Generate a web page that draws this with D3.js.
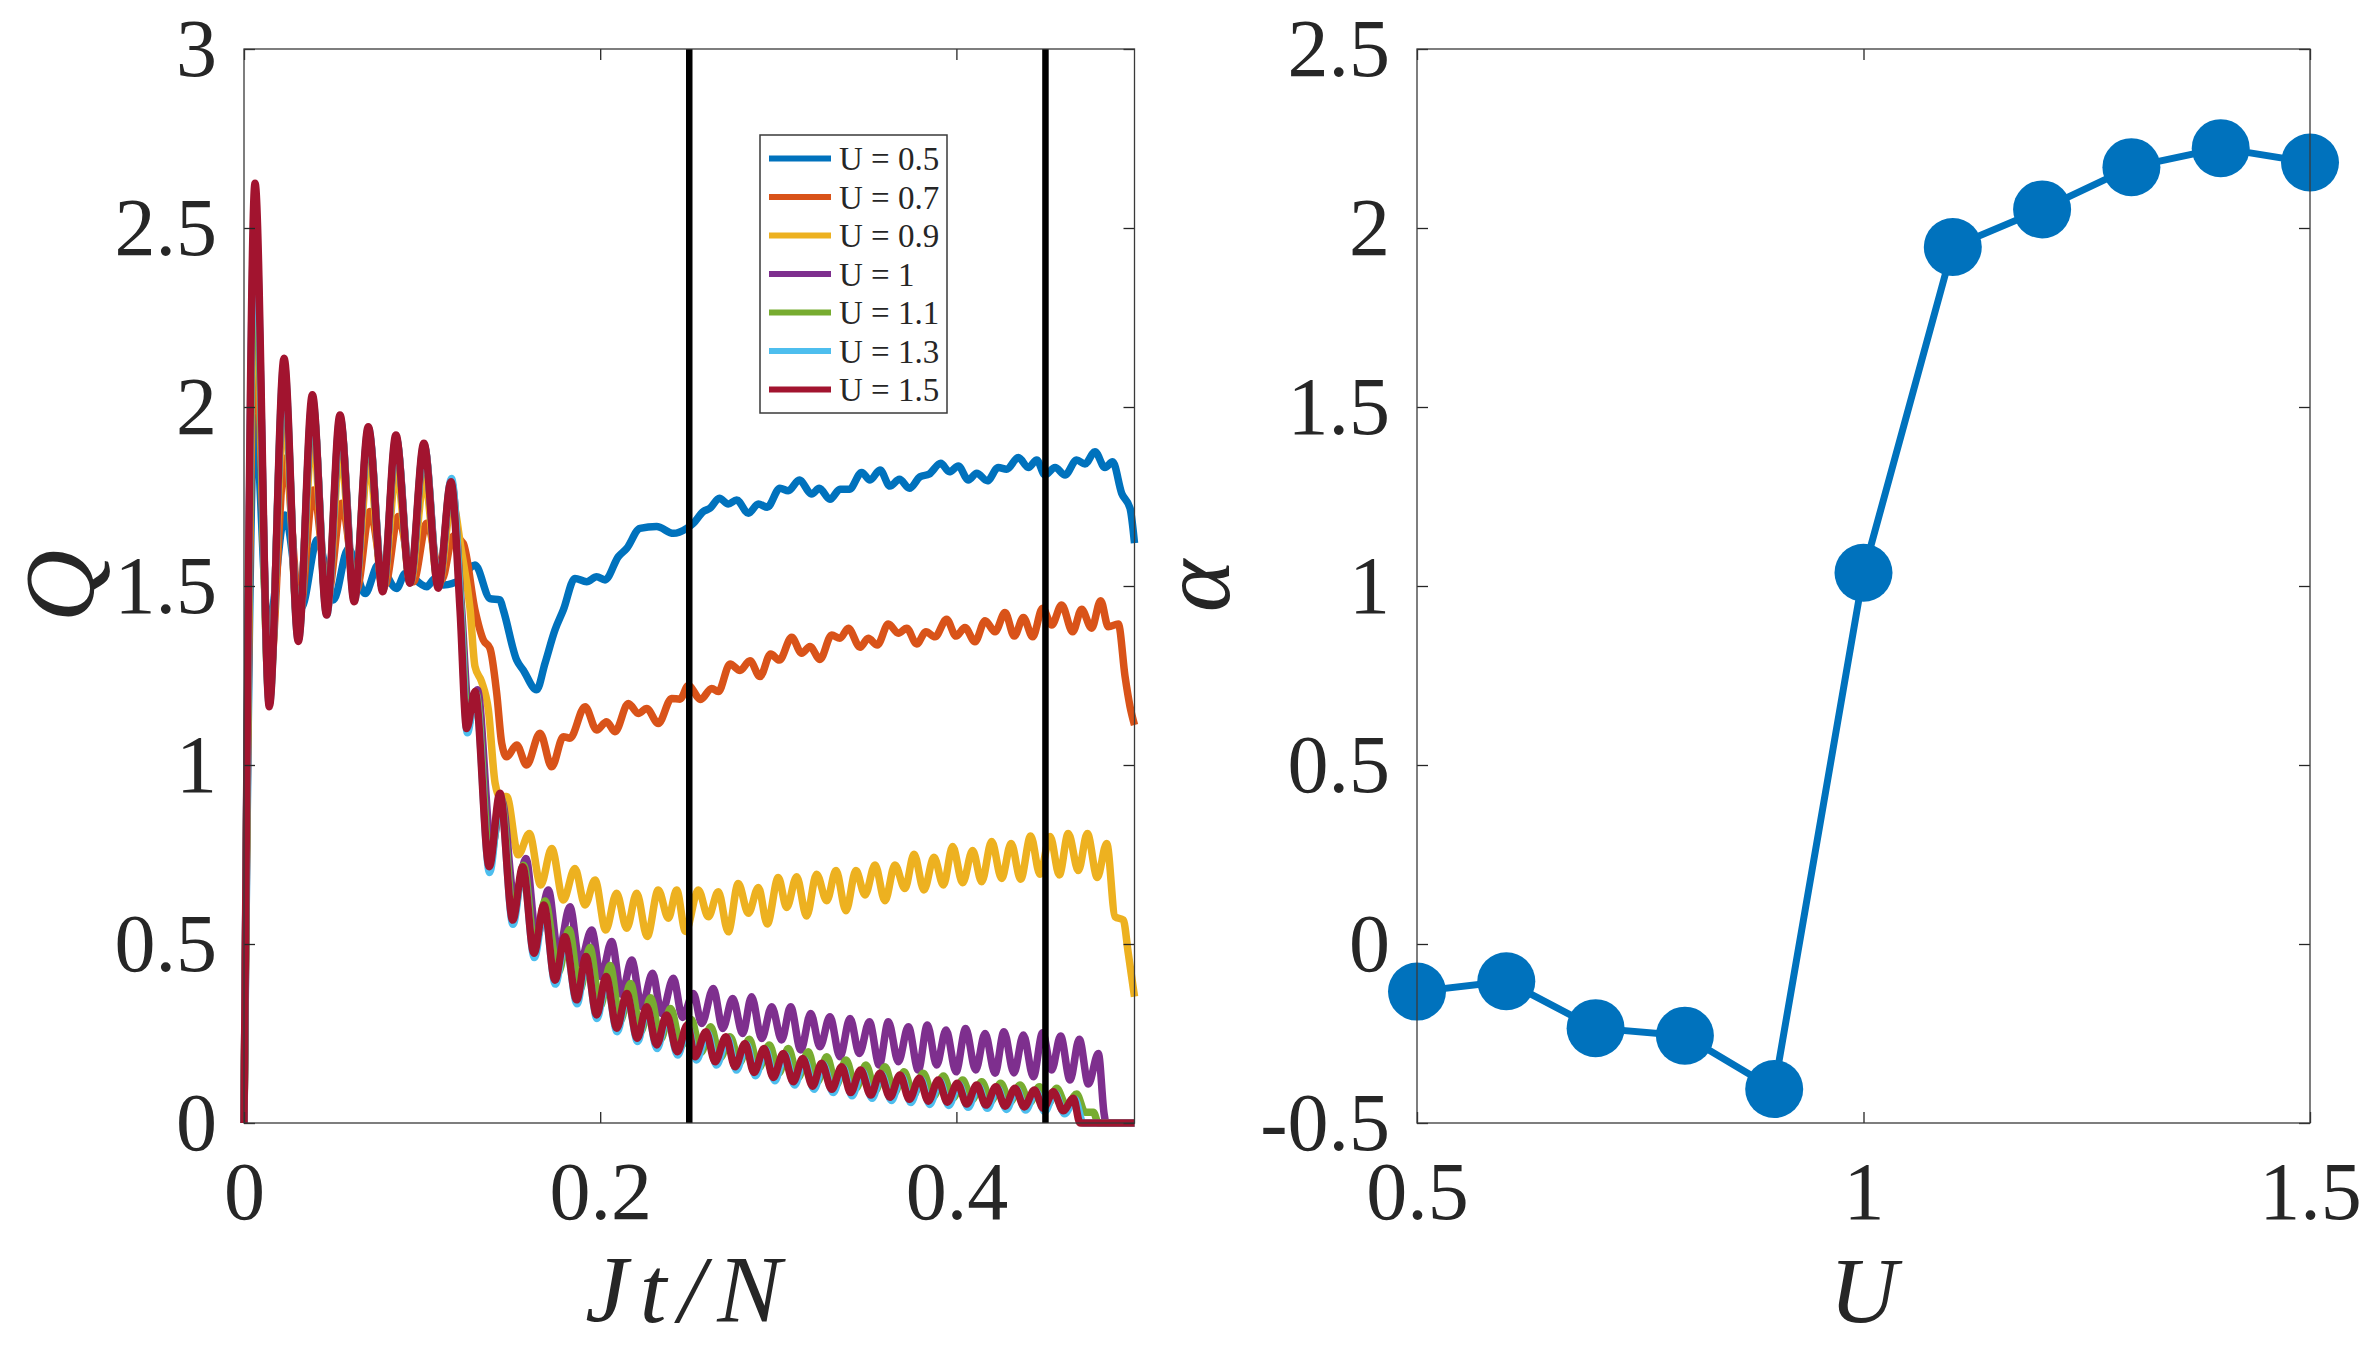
<!DOCTYPE html>
<html>
<head>
<meta charset="utf-8">
<script src="https://cdn.jsdelivr.net/npm/d3@7"></script>
<style>
  html, body { margin: 0; padding: 0; background: #fff; }
  svg { display: block; }
  text { font-family: "Liberation Serif", "Times New Roman", serif; fill: #262626; }
</style>
</head>
<body>
<svg id="chart" width="2364" height="1346"></svg>
<script>
// ---------------- DATA ----------------
const legendLabels = ["U = 0.5", "U = 0.7", "U = 0.9", "U = 1", "U = 1.1", "U = 1.3", "U = 1.5"];

// Q(Jt/N) for each U, pairs [Jt/N, Q]
const qU05 = [[0,0],[0.006,1.97],[0.0138,1.38],[0.023,1.698],[0.0322,1.44],[0.0412,1.629],[0.0502,1.461],[0.0586,1.605],[0.068,1.479],[0.0755,1.56],[0.0857,1.493],[0.0905,1.535],[0.1026,1.498],[0.1072,1.521],[0.112,1.503],[0.1213,1.517],[0.1297,1.559],[0.1381,1.465],[0.1437,1.461],[0.1456,1.433],[0.1531,1.293],[0.1568,1.265],[0.1643,1.21],[0.169,1.284],[0.1746,1.377],[0.1793,1.433],[0.1858,1.521],[0.1924,1.512],[0.198,1.526],[0.2027,1.517],[0.2102,1.582],[0.2149,1.605],[0.2223,1.661],[0.2317,1.666],[0.2411,1.647],[0.2486,1.661],[0.2523,1.675],[0.2579,1.708],[0.2616,1.717],[0.2669,1.745],[0.2719,1.729],[0.2766,1.74],[0.2832,1.703],[0.2888,1.729],[0.2938,1.72],[0.3009,1.773],[0.3056,1.766],[0.3118,1.796],[0.3187,1.757],[0.323,1.773],[0.329,1.742],[0.3346,1.77],[0.3399,1.77],[0.3468,1.817],[0.3515,1.796],[0.3571,1.824],[0.3627,1.779],[0.368,1.798],[0.3736,1.773],[0.3796,1.805],[0.3848,1.813],[0.3912,1.843],[0.396,1.819],[0.4011,1.835],[0.4067,1.796],[0.4114,1.815],[0.4174,1.794],[0.4235,1.831],[0.4282,1.826],[0.4348,1.859],[0.4404,1.831],[0.4451,1.852],[0.4497,1.81],[0.4554,1.831],[0.461,1.81],[0.4675,1.852],[0.4722,1.841],[0.4778,1.875],[0.4834,1.831],[0.4877,1.847],[0.4928,1.759],[0.4975,1.717],[0.5,1.62]];

const qU07 = [[0,0],[0.0062,2.2],[0.0145,1.25],[0.023,1.857],[0.0314,1.43],[0.0389,1.768],[0.0473,1.48],[0.0548,1.731],[0.0632,1.489],[0.0707,1.708],[0.0792,1.503],[0.0866,1.694],[0.0951,1.512],[0.1026,1.675],[0.111,1.517],[0.1175,1.64],[0.1231,1.619],[0.1297,1.433],[0.1344,1.349],[0.1381,1.326],[0.1419,1.2],[0.1447,1.061],[0.1475,1.023],[0.1531,1.056],[0.1587,1.0],[0.1662,1.089],[0.1728,0.995],[0.1793,1.079],[0.183,1.075],[0.1915,1.163],[0.198,1.098],[0.2036,1.121],[0.2083,1.093],[0.2158,1.172],[0.2214,1.144],[0.2261,1.158],[0.2326,1.116],[0.2401,1.186],[0.2448,1.184],[0.2495,1.222],[0.2564,1.183],[0.2626,1.214],[0.2663,1.205],[0.2729,1.282],[0.2785,1.264],[0.2841,1.291],[0.2897,1.247],[0.2957,1.31],[0.3006,1.293],[0.3075,1.357],[0.3131,1.312],[0.3178,1.331],[0.3234,1.295],[0.33,1.363],[0.3346,1.354],[0.3393,1.382],[0.3459,1.329],[0.3505,1.354],[0.3556,1.335],[0.3618,1.394],[0.3674,1.368],[0.3721,1.382],[0.3777,1.338],[0.3829,1.372],[0.388,1.358],[0.3945,1.407],[0.3998,1.36],[0.4048,1.384],[0.4104,1.344],[0.4161,1.403],[0.4217,1.372],[0.4273,1.426],[0.4325,1.36],[0.4376,1.412],[0.4428,1.358],[0.4484,1.438],[0.4535,1.391],[0.4591,1.447],[0.4653,1.372],[0.4703,1.435],[0.4759,1.382],[0.481,1.459],[0.4853,1.386],[0.4909,1.394],[0.4947,1.247],[0.4975,1.163],[0.5,1.112]];

const qU09 = [[0,0],[0.0062,2.35],[0.0142,1.2],[0.0225,2.0],[0.0305,1.38],[0.0386,1.92],[0.0466,1.44],[0.0541,1.88],[0.0621,1.47],[0.07,1.85],[0.078,1.49],[0.0856,1.82],[0.0935,1.51],[0.1013,1.8],[0.1093,1.5],[0.1168,1.74],[0.122,1.6],[0.127,1.433],[0.1297,1.275],[0.1334,1.233],[0.1372,1.154],[0.141,0.949],[0.1437,0.912],[0.1475,0.912],[0.154,0.749],[0.1602,0.809],[0.1666,0.665],[0.1728,0.767],[0.1793,0.623],[0.1858,0.711],[0.1915,0.609],[0.1971,0.679],[0.2031,0.539],[0.2092,0.642],[0.2149,0.544],[0.2205,0.642],[0.2264,0.521],[0.2326,0.651],[0.2383,0.572],[0.2429,0.651],[0.2479,0.535],[0.2551,0.651],[0.2607,0.576],[0.2663,0.646],[0.2719,0.534],[0.2775,0.669],[0.2832,0.586],[0.2888,0.658],[0.2938,0.556],[0.3,0.686],[0.3047,0.602],[0.3103,0.688],[0.3159,0.578],[0.3215,0.695],[0.3272,0.621],[0.3324,0.705],[0.338,0.593],[0.3436,0.705],[0.3487,0.637],[0.3543,0.721],[0.3599,0.621],[0.3655,0.721],[0.3711,0.655],[0.3762,0.751],[0.3818,0.651],[0.3874,0.742],[0.3927,0.665],[0.3979,0.772],[0.4035,0.671],[0.4091,0.761],[0.4142,0.674],[0.4198,0.786],[0.4254,0.683],[0.4307,0.781],[0.4361,0.681],[0.4417,0.802],[0.4469,0.695],[0.4526,0.8],[0.4578,0.693],[0.4628,0.809],[0.4685,0.705],[0.4735,0.809],[0.4791,0.686],[0.4844,0.781],[0.4891,0.576],[0.4937,0.567],[0.4965,0.474],[0.5,0.353]];

const qU10 = [[0,0],[0.0062,2.5],[0.0142,1.2],[0.0225,2.08],[0.0305,1.37],[0.0386,2.0],[0.0466,1.43],[0.0541,1.96],[0.0621,1.47],[0.07,1.93],[0.078,1.49],[0.0855,1.91],[0.0934,1.51],[0.1012,1.89],[0.1093,1.5],[0.1165,1.79],[0.122,1.45],[0.1265,1.14],[0.131,1.21],[0.139,0.77],[0.1448,0.9],[0.152,0.62],[0.1583,0.739],[0.1643,0.516],[0.1709,0.651],[0.1765,0.474],[0.183,0.604],[0.1886,0.446],[0.1952,0.539],[0.2005,0.409],[0.2064,0.507],[0.212,0.36],[0.2177,0.455],[0.2233,0.325],[0.2294,0.418],[0.2345,0.306],[0.2411,0.404],[0.2462,0.295],[0.2523,0.362],[0.257,0.278],[0.2635,0.376],[0.2688,0.264],[0.2744,0.348],[0.28,0.25],[0.285,0.353],[0.2907,0.236],[0.2963,0.325],[0.3019,0.232],[0.3069,0.325],[0.3126,0.204],[0.3182,0.306],[0.3234,0.213],[0.329,0.297],[0.3346,0.185],[0.3403,0.292],[0.3455,0.194],[0.3511,0.283],[0.3567,0.162],[0.3618,0.283],[0.3674,0.171],[0.373,0.269],[0.3786,0.148],[0.3837,0.274],[0.3889,0.162],[0.3942,0.26],[0.3998,0.143],[0.4052,0.264],[0.4108,0.148],[0.4161,0.25],[0.4217,0.139],[0.4267,0.255],[0.4323,0.14],[0.4376,0.246],[0.4432,0.129],[0.4484,0.252],[0.4535,0.148],[0.4585,0.243],[0.4638,0.12],[0.469,0.234],[0.4741,0.109],[0.4797,0.194],[0.4829,0.027],[0.484,0],[0.5,0]];

const qU11 = [[0,0],[0.0062,2.45],[0.0142,1.18],[0.0225,2.1],[0.0305,1.36],[0.0385,2.01],[0.0465,1.43],[0.054,1.96],[0.062,1.47],[0.0699,1.93],[0.078,1.49],[0.0854,1.91],[0.0933,1.51],[0.1011,1.89],[0.1092,1.5],[0.1164,1.79],[0.1218,1.44],[0.1258,1.11],[0.1303,1.2],[0.1382,0.73],[0.1442,0.91],[0.1514,0.58],[0.157,0.72],[0.1634,0.49],[0.169,0.62],[0.1765,0.42],[0.1825,0.54],[0.1885,0.37],[0.1942,0.49],[0.2,0.325],[0.2055,0.44],[0.2113,0.285],[0.217,0.39],[0.2228,0.255],[0.2283,0.35],[0.234,0.235],[0.2395,0.32],[0.2455,0.215],[0.251,0.29],[0.2567,0.197],[0.262,0.269],[0.2675,0.183],[0.2729,0.241],[0.2783,0.169],[0.2837,0.234],[0.289,0.153],[0.295,0.218],[0.3003,0.139],[0.3056,0.208],[0.3112,0.127],[0.3168,0.199],[0.322,0.115],[0.3272,0.185],[0.3326,0.106],[0.338,0.176],[0.3436,0.097],[0.3492,0.162],[0.3545,0.09],[0.3599,0.157],[0.3652,0.084],[0.3706,0.143],[0.376,0.078],[0.3814,0.139],[0.387,0.073],[0.3927,0.131],[0.3981,0.07],[0.4035,0.12],[0.4088,0.065],[0.4142,0.115],[0.4195,0.062],[0.4248,0.111],[0.4302,0.059],[0.4357,0.106],[0.4411,0.057],[0.4466,0.101],[0.4515,0.053],[0.4563,0.097],[0.4619,0.047],[0.4675,0.081],[0.4722,0.03],[0.4769,0.03],[0.4797,0],[0.5,0]];

const qU13 = [[0,0],[0.0062,2.55],[0.0142,1.17],[0.0225,2.12],[0.0305,1.35],[0.0385,2.02],[0.0465,1.42],[0.054,1.97],[0.062,1.46],[0.0699,1.94],[0.078,1.49],[0.0854,1.915],[0.0933,1.51],[0.1011,1.895],[0.1092,1.5],[0.1165,1.8],[0.1216,1.44],[0.1254,1.09],[0.13,1.2],[0.1379,0.7],[0.1439,0.915],[0.151,0.555],[0.1567,0.71],[0.163,0.462],[0.1686,0.6],[0.1748,0.388],[0.1804,0.512],[0.187,0.333],[0.1922,0.458],[0.1982,0.292],[0.2035,0.402],[0.2095,0.255],[0.2151,0.356],[0.221,0.228],[0.2263,0.32],[0.2319,0.208],[0.2375,0.296],[0.2435,0.19],[0.2492,0.27],[0.254,0.176],[0.2602,0.252],[0.2653,0.162],[0.2714,0.238],[0.2765,0.148],[0.2821,0.22],[0.2872,0.132],[0.2928,0.205],[0.298,0.118],[0.3036,0.191],[0.3092,0.106],[0.3145,0.177],[0.3201,0.094],[0.3251,0.164],[0.3308,0.085],[0.3364,0.154],[0.3414,0.076],[0.347,0.145],[0.3527,0.069],[0.3579,0.136],[0.3635,0.063],[0.3691,0.131],[0.3744,0.057],[0.38,0.122],[0.385,0.052],[0.3906,0.117],[0.3957,0.049],[0.4013,0.108],[0.4066,0.044],[0.4122,0.103],[0.4174,0.041],[0.423,0.098],[0.4281,0.038],[0.4337,0.094],[0.4389,0.036],[0.4446,0.089],[0.4496,0.032],[0.4552,0.084],[0.4608,0.026],[0.4665,0.066],[0.4712,0],[0.5,0]];

const qU15 = [[0,0],[0.0062,2.625],[0.0142,1.163],[0.0225,2.136],[0.0305,1.345],[0.0384,2.034],[0.0464,1.419],[0.0539,1.978],[0.0619,1.456],[0.0698,1.945],[0.0779,1.484],[0.0853,1.922],[0.0932,1.508],[0.101,1.899],[0.1091,1.494],[0.1162,1.791],[0.1213,1.433],[0.125,1.102],[0.1297,1.205],[0.1377,0.716],[0.1437,0.921],[0.1509,0.567],[0.1565,0.716],[0.1628,0.474],[0.1684,0.609],[0.1746,0.399],[0.1802,0.52],[0.1868,0.344],[0.192,0.465],[0.198,0.302],[0.2033,0.409],[0.2093,0.265],[0.2149,0.362],[0.2208,0.237],[0.2261,0.325],[0.2317,0.218],[0.2373,0.302],[0.2433,0.199],[0.2489,0.274],[0.2532,0.185],[0.2594,0.255],[0.2645,0.171],[0.2706,0.241],[0.2757,0.157],[0.2813,0.222],[0.2864,0.141],[0.292,0.208],[0.2972,0.127],[0.3028,0.194],[0.3084,0.115],[0.3137,0.18],[0.3193,0.103],[0.3243,0.167],[0.33,0.094],[0.3356,0.157],[0.3406,0.085],[0.3462,0.148],[0.3519,0.078],[0.3571,0.139],[0.3627,0.072],[0.3683,0.134],[0.3736,0.066],[0.3792,0.125],[0.3842,0.061],[0.3898,0.12],[0.3949,0.058],[0.4005,0.111],[0.4058,0.053],[0.4114,0.106],[0.4166,0.05],[0.4222,0.101],[0.4273,0.047],[0.4329,0.097],[0.4381,0.045],[0.4438,0.092],[0.4488,0.041],[0.4544,0.087],[0.46,0.034],[0.4657,0.069],[0.4694,0],[0.5,0]];

const qSeries = [qU05, qU07, qU09, qU10, qU11, qU13, qU15];

// vertical reference lines (Jt/N)
const markerTimes = [0.25, 0.45];

// right panel: alpha vs U
const alphaU = [0.5, 0.6, 0.7, 0.8, 0.9, 1.0, 1.1, 1.2, 1.3, 1.4, 1.5];
const alphaVals = [-0.133, -0.104, -0.235, -0.256, -0.405, 1.037, 1.947, 2.052, 2.170, 2.223, 2.183];

// ticks
const leftXTicks = [0, 0.2, 0.4];
const leftYTicks = [0, 0.5, 1, 1.5, 2, 2.5, 3];
const rightXTicks = [0.5, 1, 1.5];
const rightYTicks = [-0.5, 0, 0.5, 1, 1.5, 2, 2.5];

// ---------------- STYLE ----------------
const colors = ["#0072BD", "#D95319", "#EDB120", "#7E2F8E", "#77AC30", "#4DBEEE", "#A2142F"];
const axisColor = "#262626";
const tickFont = 82;

const svg = d3.select("#chart");
svg.append("rect").attr("width", 2364).attr("height", 1346).attr("fill", "#fff");

const P1 = {x0: 244, x1: 1134.5, y0: 49, y1: 1123};
const P2 = {x0: 1417, x1: 2310, y0: 49, y1: 1123};

function drawAxes(P, x, y, xTicks, yTicks) {
  const fmt = d => String(d);
  const g = svg.append("g");
  const gb = g.append("g").attr("transform", `translate(0,${P.y1})`)
    .call(d3.axisBottom(x).tickValues(xTicks).tickSizeInner(-11).tickSizeOuter(0).tickPadding(38).tickFormat(fmt));
  const gt = g.append("g").attr("transform", `translate(0,${P.y0})`)
    .call(d3.axisTop(x).tickValues(xTicks).tickSizeInner(-11).tickSizeOuter(0).tickFormat(""));
  const gl = g.append("g").attr("transform", `translate(${P.x0},0)`)
    .call(d3.axisLeft(y).tickValues(yTicks).tickSizeInner(-11).tickSizeOuter(0).tickPadding(27).tickFormat(fmt));
  const gr = g.append("g").attr("transform", `translate(${P.x1},0)`)
    .call(d3.axisRight(y).tickValues(yTicks).tickSizeInner(-11).tickSizeOuter(0).tickFormat(""));
  [gb, gt, gl, gr].forEach(a => {
    a.select(".domain").remove();
    a.selectAll(".tick line").attr("stroke", axisColor).attr("stroke-width", 1.3);
    a.selectAll("text").attr("font-size", tickFont).attr("fill", axisColor)
      .attr("font-family", "'Liberation Serif', 'Times New Roman', serif");
  });
  g.append("rect").attr("x", P.x0).attr("y", P.y0)
    .attr("width", P.x1 - P.x0).attr("height", P.y1 - P.y0)
    .attr("fill", "none").attr("stroke", "#3a3a3a").attr("stroke-width", 1.3);
}

// ---------------- LEFT PANEL ----------------
const x1 = d3.scaleLinear().domain([0, 0.5]).range([P1.x0, P1.x1]);
const y1 = d3.scaleLinear().domain([0, 3]).range([P1.y1, P1.y0]);

const line1 = d3.line().x(d => x1(d[0])).y(d => y1(d[1])).curve(d3.curveMonotoneX);
const gLines = svg.append("g");
qSeries.forEach((s, i) => {
  gLines.append("path").datum(s).attr("d", line1)
    .attr("fill", "none").attr("stroke", colors[i]).attr("stroke-width", 7.5)
    .attr("stroke-linejoin", "round").attr("stroke-linecap", "butt");
});

// vertical lines
svg.append("g").selectAll("line").data(markerTimes).join("line")
  .attr("x1", d => x1(d)).attr("x2", d => x1(d))
  .attr("y1", y1(3)).attr("y2", y1(0))
  .attr("stroke", "#000").attr("stroke-width", 6.5);

drawAxes(P1, x1, y1, leftXTicks, leftYTicks);

// legend
const LG = {x: 760, y: 135, w: 187, h: 278, row0: 158.5, dy: 38.5};
const gLeg = svg.append("g");
gLeg.append("rect").attr("x", LG.x).attr("y", LG.y).attr("width", LG.w).attr("height", LG.h)
  .attr("fill", "#fff").attr("stroke", "#3a3a3a").attr("stroke-width", 1.5);
legendLabels.forEach((lab, i) => {
  const yy = LG.row0 + i * LG.dy;
  gLeg.append("line").attr("x1", 769).attr("x2", 831).attr("y1", yy).attr("y2", yy)
    .attr("stroke", colors[i]).attr("stroke-width", 6);
  gLeg.append("text").attr("x", 839).attr("y", yy + 11.5).attr("font-size", 33)
    .attr("fill", "#000").text(lab);
});

// axis titles
svg.append("text").attr("x", (P1.x0 + P1.x1) / 2).attr("y", 1322)
  .attr("text-anchor", "middle").attr("font-size", 96).attr("font-style", "italic")
  .attr("letter-spacing", 12).text("Jt/N");
svg.append("text").attr("transform", `translate(93,${(P1.y0 + P1.y1) / 2}) rotate(-90)`)
  .attr("text-anchor", "middle").attr("font-size", 100).attr("font-style", "italic").text("Q");

// ---------------- RIGHT PANEL ----------------
const x2 = d3.scaleLinear().domain([0.5, 1.5]).range([P2.x0, P2.x1]);
const y2 = d3.scaleLinear().domain([-0.5, 2.5]).range([P2.y1, P2.y0]);
const alphaData = alphaU.map((u, i) => [u, alphaVals[i]]);

const line2 = d3.line().x(d => x2(d[0])).y(d => y2(d[1]));
svg.append("path").datum(alphaData).attr("d", line2)
  .attr("fill", "none").attr("stroke", "#0072BD").attr("stroke-width", 7).attr("stroke-linejoin", "round");
svg.append("g").selectAll("circle").data(alphaData).join("circle")
  .attr("cx", d => x2(d[0])).attr("cy", d => y2(d[1])).attr("r", 29)
  .attr("fill", "#0072BD");

drawAxes(P2, x2, y2, rightXTicks, rightYTicks);

svg.append("text").attr("x", (P2.x0 + P2.x1) / 2).attr("y", 1322)
  .attr("text-anchor", "middle").attr("font-size", 94).attr("font-style", "italic").text("U");
svg.append("text").attr("transform", `translate(1229,${(P2.y0 + P2.y1) / 2}) rotate(-90)`)
  .attr("text-anchor", "middle").attr("font-size", 100).attr("font-style", "italic").text("α");
</script>
</body>
</html>
